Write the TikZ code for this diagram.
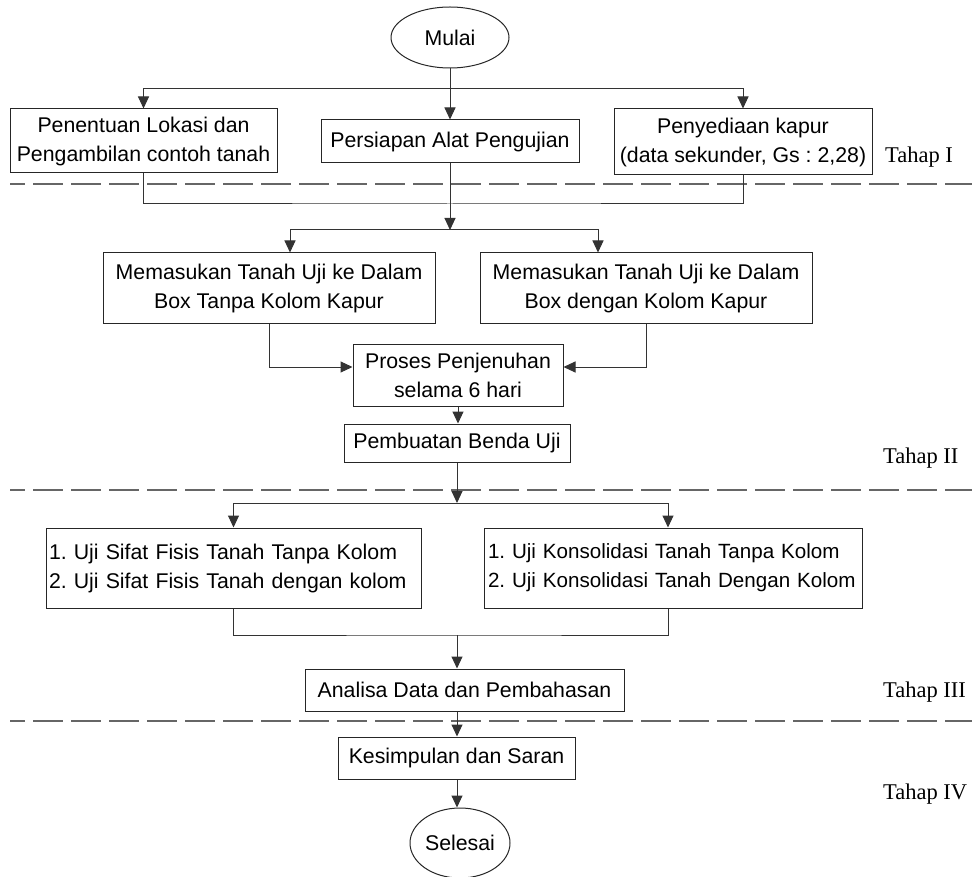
\documentclass[tikz,border=0pt]{standalone}
\usepackage{fontspec}
\setmainfont{Liberation Sans}
\newfontfamily\tahapfont{Liberation Serif}
\usetikzlibrary{arrows.meta,shapes.geometric,calc}
\frenchspacing
\begin{document}
\begin{tikzpicture}[x=1pt,y=-1pt,
  every node/.style={font=\fontsize{21.3}{29}\selectfont},
  box/.style={draw=black!85, line width=1pt, inner sep=0pt, align=center},
  oval/.style={draw=black!85, line width=1pt, ellipse, inner sep=0pt},
  conn/.style={draw=black!80, line width=1pt},
  arr/.style={conn, -{Triangle[width=11pt,length=12pt]}},
  sep/.style={draw=black!60, line width=1.3pt, dash pattern=on 30pt off 8pt, dash phase=15pt},
  tahap/.style={anchor=west, inner sep=0pt, font=\tahapfont\fontsize{22.5}{27}\selectfont}
]
\useasboundingbox (0,0) rectangle (972,877);

% nodes
\node[oval, minimum width=118pt, minimum height=61pt] (mulai) at (450,37.5) {Mulai};
\node[box, minimum width=267pt, minimum height=64pt] (b1) at (143.5,141) {Penentuan Lokasi dan\\Pengambilan contoh tanah};
\node[box, minimum width=258pt, minimum height=43pt] (b2) at (450,141.5) {Persiapan Alat Pengujian};
\node[box, minimum width=258pt, minimum height=66pt] (b3) at (743,142) {Penyediaan kapur\\(data sekunder, Gs : 2,28)};

\node[box, minimum width=332pt, minimum height=71pt] (c1) at (269,288.5) {Memasukan Tanah Uji ke Dalam\\Box Tanpa Kolom Kapur};
\node[box, minimum width=332pt, minimum height=71pt] (c2) at (646,288.5) {Memasukan Tanah Uji ke Dalam\\Box dengan Kolom Kapur};
\node[box, minimum width=210pt, minimum height=61pt] (p) at (458,375.5) {Proses Penjenuhan\\selama 6 hari};
\node[box, minimum width=226pt, minimum height=38pt] (q) at (457,443) {Pembuatan Benda Uji};

\node[box, minimum width=375pt, minimum height=80pt, text width=369pt, inner xsep=3pt, align=left] (d1) at (233.5,568) {1. Uji Sifat Fisis Tanah Tanpa Kolom\\2. Uji Sifat Fisis Tanah dengan kolom};
\node[box, minimum width=378pt, minimum height=80pt, text width=370pt, inner xsep=4pt, align=left, font=\fontsize{20.6}{29}\selectfont] (d2) at (673,568) {1. Uji Konsolidasi Tanah Tanpa Kolom\\2. Uji Konsolidasi Tanah Dengan Kolom};

\node[box, minimum width=319pt, minimum height=42pt] (a) at (464.5,690) {Analisa Data dan Pembahasan};
\node[box, minimum width=237pt, minimum height=42pt] (k) at (456.5,758) {Kesimpulan dan Saran};
\node[oval, minimum width=100pt, minimum height=70pt] (selesai) at (460,843) {Selesai};

% stage labels
\node[tahap] (t1) at (885,157) {Tahap I};
\node[tahap] (t2) at (883,458) {Tahap II};
\node[tahap] (t3) at (883,692) {Tahap III};
\node[tahap] (t4) at (883,794) {Tahap IV};

% separators
\draw[sep] (10,184) -- (972,184);
\draw[sep] (10,490) -- (972,490);
\draw[sep] (10,721) -- (972,721);

% connectors
\coordinate (s1) at (450,89);
\coordinate (m1) at (450,204);
\coordinate (s2) at (450,230);
\coordinate (s3) at (457,503);
\coordinate (m3) at (457,635);

\draw[arr] (mulai.south) -- (b2.north);
\draw[arr] (s1) -| (b1.north);
\draw[arr] (s1) -| (b3.north);

\draw[conn] (b1.south) |- (m1) -| (b3.south);
\draw[arr] (b2.south) -- (s2);
\draw[arr] (s2) -| ([xshift=21pt]c1.north);
\draw[arr] (s2) -| ([xshift=-48pt]c2.north);

\draw[arr] (c1.south) |- ([yshift=8.5pt]p.west);
\draw[arr] (c2.south) |- ([yshift=8.5pt]p.east);
\draw[arr] (p.south) -- (p.south |- q.north);

\draw[arr] (q.south) -- (s3);
\draw[arr] (s3) -| (d1.north);
\draw[arr] (s3) -| ([xshift=-5pt]d2.north);

\draw[conn] (d1.south) |- (m3) -| ([xshift=-5pt]d2.south);
\draw[arr] (m3) -- (m3 |- a.north);
\draw[arr] (a.south -| m3) -- (k.north -| m3);
\draw[arr] (k.south -| m3) -- (selesai.north -| m3);
\end{tikzpicture}
\end{document}
